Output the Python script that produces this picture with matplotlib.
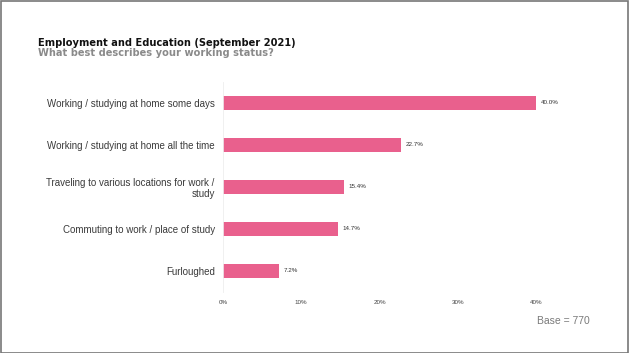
import matplotlib
matplotlib.use("Agg")
import matplotlib.pyplot as plt
from matplotlib.patches import Rectangle

categories = [
    "Working / studying at home some days",
    "Working / studying at home all the time",
    "Traveling to various locations for work /\nstudy",
    "Commuting to work / place of study",
    "Furloughed",
]
values = [40.0, 22.7, 15.4, 14.7, 7.2]
value_labels = ["40.0%", "22.7%", "15.4%", "14.7%", "7.2%"]
xticks = [0, 10, 20, 30, 40]
xtick_labels = ["0%", "10%", "20%", "30%", "40%"]

plt.rcParams["font.family"] = ["Liberation Sans", "DejaVu Sans"]

W, H = 629, 353
fig = plt.figure(figsize=(W / 100, H / 100), dpi=100)
fig.patch.set_facecolor("white")

# axes placed in pixel units
x0, x1 = 223, 223 + 45 * 7.825
y_top, y_bot = 82, 292
ax = fig.add_axes([x0 / W, 1 - y_bot / H, (x1 - x0) / W, (y_bot - y_top) / H])

bar_color = "#E9608D"
ypos = list(range(len(categories)))
ax.barh(ypos, values, height=0.34, color=bar_color)
ax.set_ylim(len(categories) - 0.5, -0.5)
ax.set_xlim(0, 45)

for y, v, lab in zip(ypos, values, value_labels):
    ax.text(v + 0.6, y, lab, va="center", ha="left", fontsize=4.5, color="#333333")

ax.set_yticks(ypos)
ax.set_yticklabels(categories, fontsize=7, color="#3a3a3a", linespacing=1.1)
ax.set_xticks(xticks)
ax.set_xticklabels(xtick_labels, fontsize=4.5, color="#444444")
ax.tick_params(axis="both", length=0)
ax.tick_params(axis="y", pad=6)
ax.tick_params(axis="x", pad=6)
for s in ["top", "right", "bottom"]:
    ax.spines[s].set_visible(False)
ax.spines["left"].set_color("#eeeeee")
ax.spines["left"].set_linewidth(0.6)
ax.set_facecolor("none")

title_font = ["DejaVu Sans"]
fig.text(38 / W, 1 - 46 / H, "Employment and Education (September 2021)",
         fontsize=7.1, fontweight="bold", family=title_font, color="#111111",
         va="baseline", ha="left")
fig.text(38 / W, 1 - 56.5 / H, "What best describes your working status?",
         fontsize=7.1, fontweight="bold", family=title_font, color="#8a8a8a",
         va="baseline", ha="left")
fig.text(590 / W, 1 - 321 / H, "Base = 770", fontsize=7.5, color="#7a7a7a",
         va="center", ha="right")

fig.add_artist(Rectangle((0.5 / W, 0.5 / H), 1 - 1.5 / W, 1 - 1.5 / H,
                         transform=fig.transFigure, fill=False,
                         edgecolor="#777777", linewidth=1.2))

fig.savefig("out.png", dpi=100)
